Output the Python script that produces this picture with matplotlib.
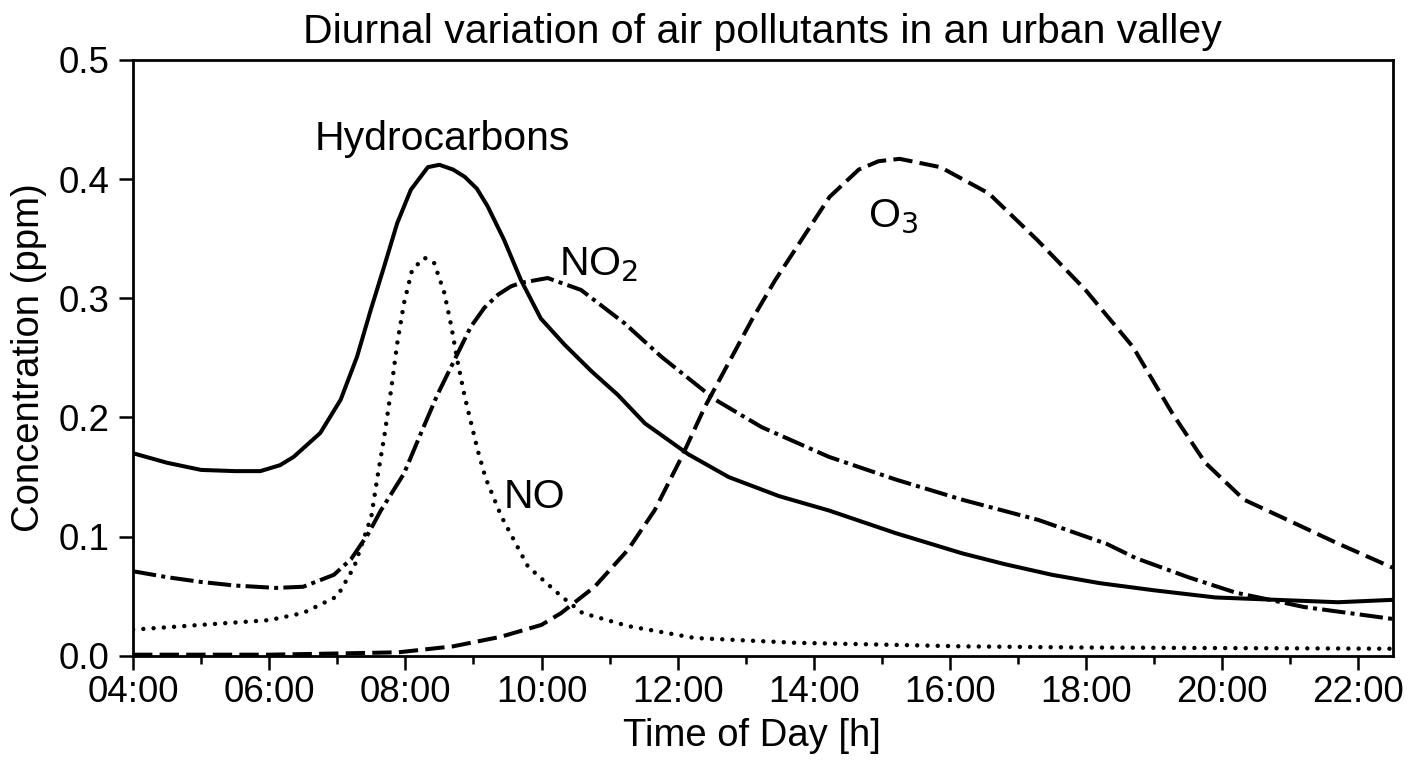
import numpy as np
import matplotlib
matplotlib.use("Agg")
import matplotlib.pyplot as plt
from matplotlib.ticker import MultipleLocator, FuncFormatter

plt.rcParams['font.family'] = ['Liberation Sans', 'DejaVu Sans']

# values (hour of day, ppm)
hc_t = [4.0, 4.5, 5.0, 5.5, 5.87, 6.16, 6.36, 6.75, 7.05, 7.29, 7.49, 7.69, 7.88, 8.08,
        8.33, 8.5, 8.7, 8.87, 9.05, 9.21, 9.45, 9.70, 9.99, 10.34, 10.73, 11.12, 11.52,
        12.16, 12.75, 13.49, 14.22, 15.2, 16.18, 16.8, 17.5, 18.2, 19.0, 19.9, 20.8, 21.7,
        22.5]
hc_v = [0.170, 0.162, 0.156, 0.155, 0.155, 0.160, 0.167, 0.187, 0.215, 0.251, 0.290, 0.327,
        0.363, 0.391, 0.410, 0.412, 0.408, 0.402, 0.392, 0.377, 0.349, 0.315, 0.283, 0.261,
        0.239, 0.219, 0.195, 0.169, 0.150, 0.134, 0.122, 0.103, 0.086, 0.077, 0.068, 0.061,
        0.055, 0.049, 0.047, 0.045, 0.047]

no2_t = [4.0, 4.5, 5.0, 5.5, 6.1, 6.5, 6.95, 7.2, 7.45, 7.64, 7.98, 8.23, 8.47, 8.96, 9.16,
         9.36, 9.55, 9.70, 10.09, 10.58, 11.22, 11.76, 12.55, 13.23, 14.22, 15.2, 16.18,
         17.3, 18.3, 18.73, 19.5, 20.2, 21.2, 22.5]
no2_v = [0.071, 0.066, 0.062, 0.059, 0.057, 0.058, 0.068, 0.081, 0.102, 0.122, 0.153, 0.187,
         0.219, 0.276, 0.292, 0.303, 0.310, 0.313, 0.317, 0.307, 0.279, 0.251, 0.215, 0.192,
         0.167, 0.148, 0.131, 0.114, 0.094, 0.082, 0.066, 0.053, 0.041, 0.031]

no_t = [4.0, 5.0, 6.0, 6.5, 7.0, 7.25, 7.5, 7.59, 7.69, 7.79, 7.88, 7.98, 8.10, 8.28, 8.42,
        8.57, 8.67, 8.77, 8.87, 9.06, 9.18, 9.41, 9.8, 10.29, 10.6, 11.27, 12.25, 13.72,
        16.18, 18.0, 22.5]
no_v = [0.022, 0.026, 0.030, 0.036, 0.050, 0.075, 0.117, 0.150, 0.184, 0.223, 0.262, 0.296,
        0.324, 0.334, 0.330, 0.305, 0.278, 0.246, 0.218, 0.173, 0.149, 0.117, 0.075, 0.050,
        0.036, 0.025, 0.015, 0.011, 0.008, 0.007, 0.006]

o3_t = [4.0, 6.0, 7.0, 7.9, 8.7, 9.4, 10.0, 10.29, 10.78, 11.27, 11.66, 12.06, 12.4, 12.75,
        13.09, 13.43, 14.23, 14.66, 14.95, 15.26, 15.86, 16.57, 17.28, 17.99, 18.69, 19.26,
        19.75, 20.32, 20.96, 21.67, 22.5]
o3_v = [0.001, 0.001, 0.002, 0.003, 0.008, 0.016, 0.026, 0.036, 0.058, 0.089, 0.122, 0.167,
        0.209, 0.246, 0.282, 0.315, 0.385, 0.408, 0.415, 0.417, 0.410, 0.388, 0.349, 0.307,
        0.259, 0.204, 0.162, 0.131, 0.114, 0.095, 0.074]

fig = plt.figure(figsize=(14.08, 7.68), dpi=100)
ax = fig.add_axes([0.0945, 0.146, 0.8945, 0.776])

lw = 2.9
ax.plot(hc_t, hc_v, color='black', lw=lw, solid_joinstyle='round')
ax.plot(no2_t, no2_v, color='black', lw=lw, dashes=(5.8, 1.3, 1.0, 1.3))
ax.plot(no_t, no_v, color='black', lw=3.2, dashes=(0.01, 2.3), dash_capstyle='round')
ax.plot(o3_t, o3_v, color='black', lw=lw, dashes=(4.8, 1.8))

ax.text(8.54, 0.4245, 'Hydrocarbons', fontsize=29.5, ha='center', va='baseline')
ax.text(10.26, 0.3196, 'NO$_2$', fontsize=29.5, ha='left', va='baseline')
ax.text(9.45, 0.124, 'NO', fontsize=29.5, ha='left', va='baseline')
ax.text(14.8, 0.36, 'O$_3$', fontsize=29.5, ha='left', va='baseline')

ax.set_xlim(4, 22.5)
ax.set_ylim(0, 0.5)
ax.xaxis.set_major_locator(MultipleLocator(2))
ax.xaxis.set_minor_locator(MultipleLocator(1))
ax.yaxis.set_major_locator(MultipleLocator(0.1))
ax.xaxis.set_major_formatter(FuncFormatter(lambda v, p: '%02d:00' % int(round(v))))
ax.yaxis.set_major_formatter(FuncFormatter(lambda v, p: '%.1f' % v))

ax.tick_params(axis='both', which='major', direction='out', length=10, width=1.8,
               labelsize=26.5)
ax.tick_params(axis='x', which='major', pad=4)
ax.tick_params(axis='y', which='major', pad=7)
ax.tick_params(axis='x', which='minor', direction='out', length=6, width=1.8)
for s in ax.spines.values():
    s.set_linewidth(2.0)

ax.set_xlabel('Time of Day [h]', fontsize=27.5, labelpad=4)
ax.xaxis.set_label_coords(0.491, -0.105)
ax.set_ylabel('Concentration (ppm)', fontsize=27.5, labelpad=8)
ax.set_title('Diurnal variation of air pollutants in an urban valley', fontsize=29.5, pad=12)

fig.savefig('out.png', dpi=100)
